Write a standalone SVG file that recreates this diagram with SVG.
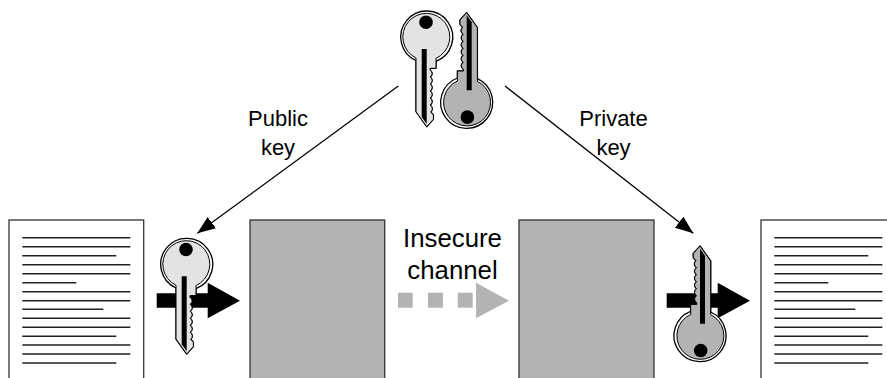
<svg xmlns="http://www.w3.org/2000/svg" xmlns:xlink="http://www.w3.org/1999/xlink" width="887" height="378" viewBox="0 0 887 378">
<style>
text{font-family:"Liberation Sans",Arial,sans-serif;fill:#000;text-anchor:middle}
.big{font-size:25.8px}
.lab{font-size:22px}
.page{fill:#fff;stroke:#333;stroke-width:1.3}
.box{fill:#b3b3b3;stroke:#333;stroke-width:1.3}
.ln{stroke:#222;stroke-width:1.4}
.conn{stroke:#000;stroke-width:1.3;fill:none;marker-end:url(#ah)}
.outer{fill:#fff;stroke:#000;stroke-width:1.3;stroke-linejoin:round}
.inner{stroke:#000;stroke-width:1;stroke-linejoin:round}
.light{fill:#e3e3e3}
.dark{fill:#b3b3b3}
.pale{fill:#b3b3b3}
</style>
<defs>
<marker id="ah" markerUnits="userSpaceOnUse" markerWidth="20" markerHeight="16" refX="18" refY="7" orient="auto"><path d="M0 0L18 7L0 14Z" fill="#000"/></marker>
<g id="keyshape">
<path class="outer" d="M-10.7 23.7A26 26 0 1 1 9.3 24.3V31.3H3.3V33Q7.5 36.5 3.5 40Q7.5 43.5 3.5 47Q7.5 50.5 3.5 54Q7.5 57.5 3.5 61Q7.5 64.5 3.5 68Q7.5 71.5 4 75L6.7 78V82.3L0 89.7L-10.7 74.7Z"/>
<path class="inner" d="M-10.7 21A23.5 23.5 0 1 1 9.3 21.3V31.3H3.3V33Q7.5 36.5 3.5 40Q7.5 43.5 3.5 47Q7.5 50.5 3.5 54Q7.5 57.5 3.5 61Q7.5 64.5 3.5 68Q7.5 71.5 4 75L6.7 78V82.3L0 89.7L-10.7 74.7Z"/>
<path d="M-5 12H0V87L-5 80Z" fill="#000"/>
<circle cx="-0.7" cy="-14.8" r="6.8" fill="#000"/>
</g>
<g id="page-lines">
<path class="ln" d="M0 237.7H108M0 246.7H108M0 255.7H94M0 264.7H108M0 273.7H108M0 282.7H54M0 291.7H108M0 300.7H108M0 309.3H81M0 318.3H108M0 327.3H108M0 336.3H94M0 345H108M0 354H108M0 363H94"/>
</g>
</defs>
<g id="connectors">
<line class="conn" x1="398.3" y1="86" x2="197.3" y2="233.3"/>
<line class="conn" x1="505" y1="86" x2="693.3" y2="233.3"/>
</g>
<g id="document-left"><rect class="page" x="9" y="220" width="134.7" height="170"/><use xlink:href="#page-lines" href="#page-lines" x="22.3"/></g>
<g id="document-right"><rect class="page" x="761" y="220" width="140" height="170"/><use xlink:href="#page-lines" href="#page-lines" x="774.3"/></g>
<g id="box-left"><rect class="box" x="250" y="220" width="134.7" height="170"/></g>
<g id="box-right"><rect class="box" x="519" y="220" width="135" height="170"/></g>
<g id="arrow-left"><path d="M156.7 293.3H207.7V282.7L240 300.7L207.7 318.3V307.7H156.7Z" fill="#000"/></g>
<g id="arrow-right"><path d="M666.7 293.3H717.7V282.7L750 300.7L717.7 318.3V307.7H666.7Z" fill="#000"/></g>
<g id="channel-arrow">
<rect class="pale" x="398" y="292.7" width="14.7" height="15"/>
<rect class="pale" x="428" y="292.7" width="15" height="15"/>
<rect class="pale" x="457.7" y="292.7" width="15" height="15"/>
<path class="pale" d="M476 282.7L509 300.7L476 318.3Z"/>
</g>
<g id="key-public-top" class="light"><use xlink:href="#keyshape" href="#keyshape" transform="translate(426.7 37)"/></g>
<g id="key-private-top" class="dark"><use xlink:href="#keyshape" href="#keyshape" transform="translate(466.7 102.3) rotate(180)"/></g>
<g id="key-public-left" class="light"><use xlink:href="#keyshape" href="#keyshape" transform="translate(186.7 264.3)"/></g>
<g id="key-private-right" class="dark"><use xlink:href="#keyshape" href="#keyshape" transform="translate(700 335.7) rotate(180)"/></g>
<g id="label-public"><text class="lab" x="278" y="126">Public</text><text class="lab" x="278" y="155">key</text></g>
<g id="label-private"><text class="lab" x="613.5" y="126">Private</text><text class="lab" x="613.5" y="155">key</text></g>
<g id="label-channel"><text class="big" x="452.5" y="247">Insecure</text><text class="big" x="452.5" y="279">channel</text></g>
</svg>
